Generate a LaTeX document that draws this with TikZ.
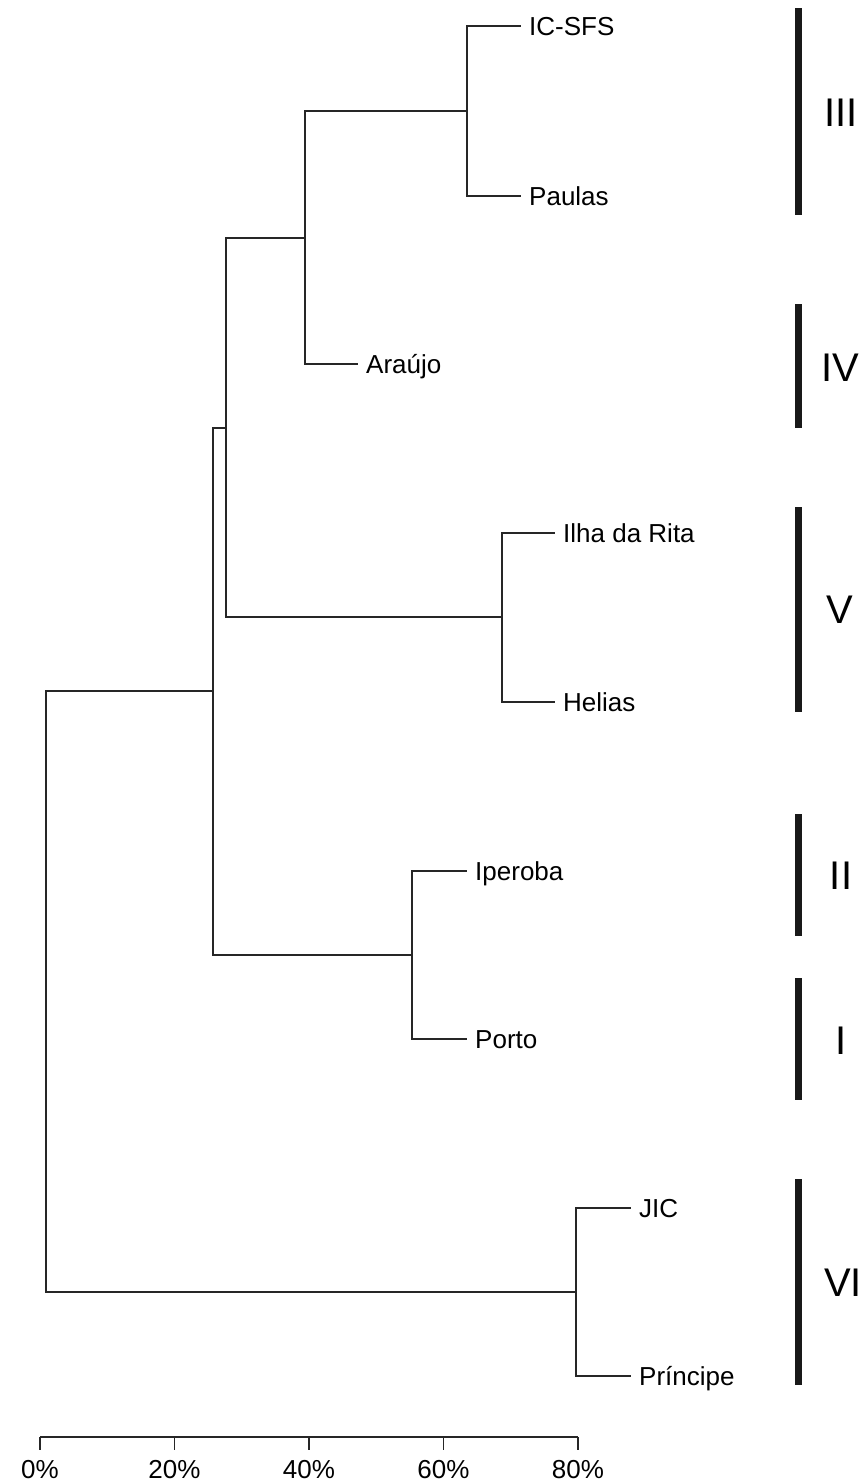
\documentclass[tikz,border=0pt]{standalone}
\usepackage{fontspec}
\setmainfont{Liberation Sans}
\begin{document}
\begin{tikzpicture}[x=1pt,y=-1pt,
  branch/.style={line width=1.9pt, draw=black!85},
  leaf/.style={anchor=west, inner xsep=8pt, inner ysep=0pt, text height=18.5pt, text depth=0pt, font=\fontsize{26}{31}\selectfont},
  groupbar/.style={line width=7pt, draw=black!90},
  grouplabel/.style={font=\fontsize{40}{48}\selectfont, text height=29pt, text depth=0pt, inner sep=0pt},
  axisline/.style={line width=1.9pt, draw=black!85},
  ticklabel/.style={anchor=base, font=\fontsize{26}{31}\selectfont, inner sep=0pt}]
\useasboundingbox (0,0) rectangle (862,1483);

% leaves
\node[leaf] (icsfs) at (521,26) {IC-SFS};
\node[leaf] (paulas) at (521,196) {Paulas};
\node[leaf] (araujo) at (358,364) {Araújo};
\node[leaf] (ilha) at (555,533) {Ilha da Rita};
\node[leaf] (helias) at (555,702) {Helias};
\node[leaf] (iperoba) at (467,871) {Iperoba};
\node[leaf] (porto) at (467,1039) {Porto};
\node[leaf] (jic) at (631,1208) {JIC};
\node[leaf] (principe) at (631,1376) {Príncipe};

% junctions
\coordinate (j1) at (467,111);
\coordinate (j2) at (305,238);
\coordinate (j3) at (502,617);
\coordinate (j4) at (226,428);
\coordinate (j5) at (412,955);
\coordinate (j6) at (213,691);
\coordinate (j7) at (576,1292);
\coordinate (root) at (46,991);

\draw[branch] (j1) |- (icsfs.west);
\draw[branch] (j1) |- (paulas.west);
\draw[branch] (j2) |- (j1);
\draw[branch] (j2) |- (araujo.west);
\draw[branch] (j3) |- (ilha.west);
\draw[branch] (j3) |- (helias.west);
\draw[branch] (j4) |- (j2);
\draw[branch] (j4) |- (j3);
\draw[branch] (j5) |- (iperoba.west);
\draw[branch] (j5) |- (porto.west);
\draw[branch] (j6) |- (j4);
\draw[branch] (j6) |- (j5);
\draw[branch] (j7) |- (jic.west);
\draw[branch] (j7) |- (principe.west);
\draw[branch] (root) |- (j6);
\draw[branch] (root) |- (j7);

% axis
\coordinate (a0) at (40,1437);
\coordinate (a1) at (174.5,1437);
\coordinate (a2) at (309,1437);
\coordinate (a3) at (443.5,1437);
\coordinate (a4) at (578,1437);
\draw[axisline] (a0) -- (a4);
\foreach \p/\t in {a0/0\%,a1/20\%,a2/40\%,a3/60\%,a4/80\%}{
  \draw[axisline] (\p) -- ++(0,13);
  \node[ticklabel] (lab\p) at ([yshift=-41pt]\p) {\t};
}

% group bars
\coordinate (b3t) at (798,8);    \coordinate (b3b) at (798,215);
\coordinate (b4t) at (798,304);  \coordinate (b4b) at (798,428);
\coordinate (b5t) at (798,507);  \coordinate (b5b) at (798,712);
\coordinate (b2t) at (798,814);  \coordinate (b2b) at (798,936);
\coordinate (b1t) at (798,978);  \coordinate (b1b) at (798,1100);
\coordinate (b6t) at (798,1179); \coordinate (b6b) at (798,1385);
\draw[groupbar] (b3t) -- (b3b);
\draw[groupbar] (b4t) -- (b4b);
\draw[groupbar] (b5t) -- (b5b);
\draw[groupbar] (b2t) -- (b2b);
\draw[groupbar] (b1t) -- (b1b);
\draw[groupbar] (b6t) -- (b6b);

\node[grouplabel] (gIII) at (841,112) {III};
\node[grouplabel] (gIV) at (840,367) {IV};
\node[grouplabel] (gV) at (840,609) {V};
\node[grouplabel] (gII) at (841,875) {II};
\node[grouplabel] (gI) at (841,1040) {I};
\node[grouplabel] (gVI) at (843,1282) {VI};
\end{tikzpicture}
\end{document}
